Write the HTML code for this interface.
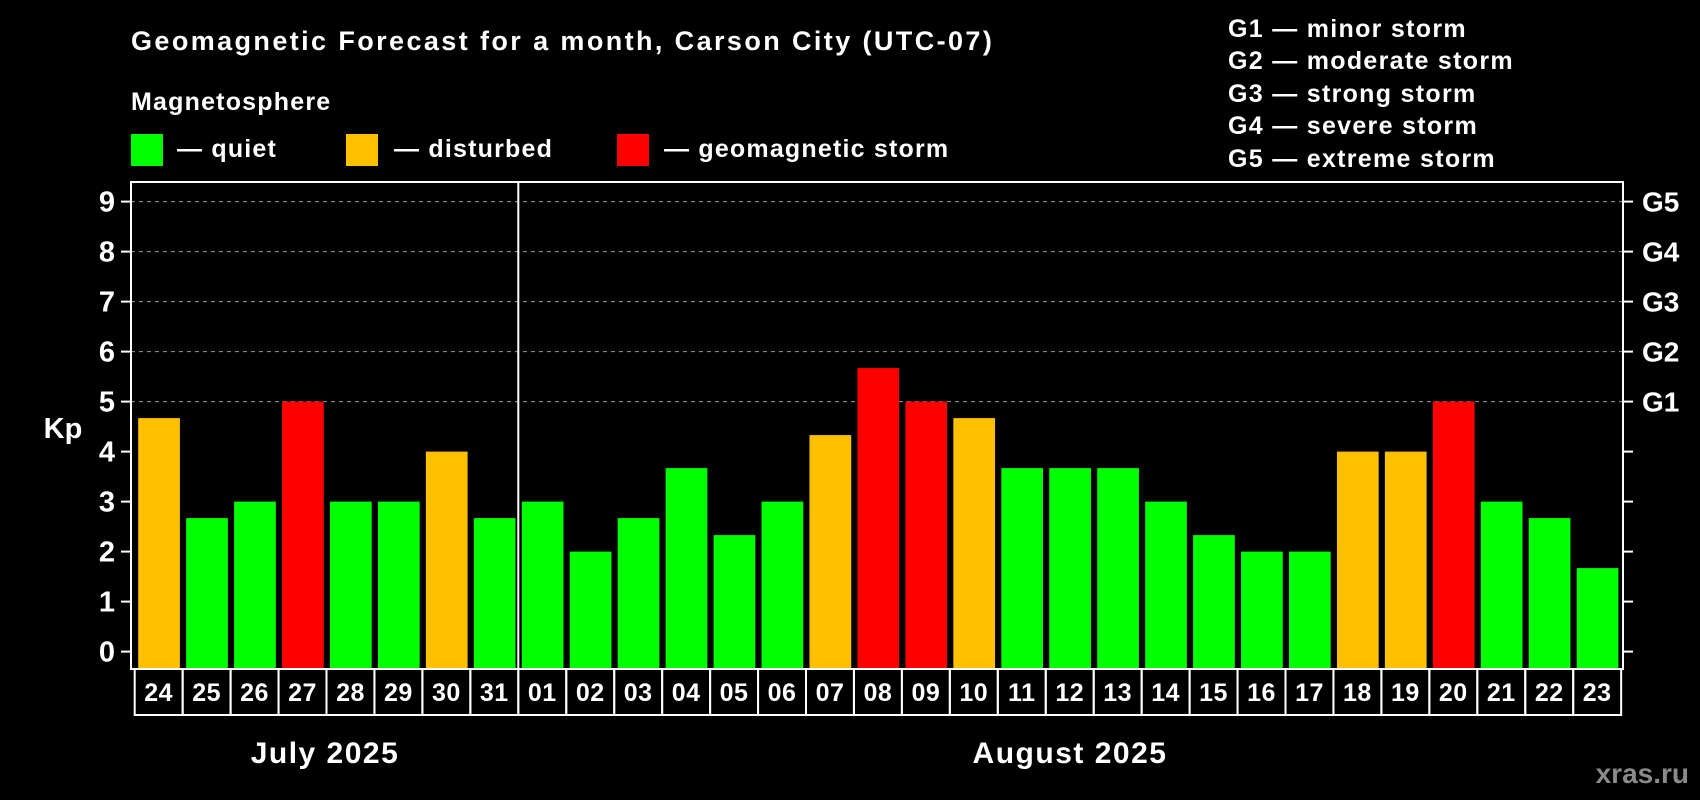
<!DOCTYPE html>
<html><head><meta charset="utf-8"><style>
html,body{margin:0;padding:0;background:#000;}
svg{display:block;font-family:"Liberation Sans",Arial,sans-serif;font-weight:bold;}
</style></head><body>
<svg id="chart" width="1700" height="800" viewBox="0 0 1700 800" xmlns="http://www.w3.org/2000/svg">
<rect width="1700" height="800" fill="#000"/>
<text x="131" y="50" fill="#fff" font-size="27" letter-spacing="2.4">Geomagnetic Forecast for a month, Carson City (UTC-07)</text>
<text x="131" y="110" fill="#fff" font-size="25" letter-spacing="1.2">Magnetosphere</text>
<g><rect x="131" y="134" width="32" height="32" fill="#00ff00"/><text x="177" y="157" fill="#fff" font-size="25" letter-spacing="1.2">— quiet</text></g>
<g><rect x="346" y="134" width="32" height="32" fill="#ffc000"/><text x="394" y="157" fill="#fff" font-size="25" letter-spacing="1.2">— disturbed</text></g>
<g><rect x="617" y="134" width="32" height="32" fill="#ff0000"/><text x="664" y="157" fill="#fff" font-size="25" letter-spacing="1.2">— geomagnetic storm</text></g>
<g fill="#fff" font-size="25" letter-spacing="1.3">
<text x="1228" y="37">G1 — minor storm</text>
<text x="1228" y="69">G2 — moderate storm</text>
<text x="1228" y="102">G3 — strong storm</text>
<text x="1228" y="134">G4 — severe storm</text>
<text x="1228" y="167">G5 — extreme storm</text>
</g>
<text x="63" y="438" fill="#fff" font-size="29" text-anchor="middle">Kp</text>
<g id="plot"></g>
<text x="325" y="763" fill="#fff" font-size="30" letter-spacing="1.5" text-anchor="middle">July 2025</text>
<text x="1070" y="763" fill="#fff" font-size="30" letter-spacing="1.5" text-anchor="middle">August 2025</text>
<text x="1689" y="783" fill="#8a8a8a" font-size="28" text-anchor="end">xras.ru</text>
</svg>
<script>
const days = ["24","25","26","27","28","29","30","31","01","02","03","04","05","06","07","08","09","10","11","12","13","14","15","16","17","18","19","20","21","22","23"];
const kp = [4.67,2.67,3,5,3,3,4,2.67,3,2,2.67,3.67,2.33,3,4.33,5.67,5,4.67,3.67,3.67,3.67,3,2.33,2,2,4,4,5,3,2.67,1.67];
const yTicks = [0,1,2,3,4,5,6,7,8,9];
const gLabels = ["G1","G2","G3","G4","G5"];
const gLevels = [5,6,7,8,9];

const NS="http://www.w3.org/2000/svg";
const g=document.getElementById('plot');
const L=131,R=1623,T=182,B=669,Y0=651.6,unit=50,boxL=134.7,boxW=47.95;
const y=v=>Y0-v*unit;
const x=i=>boxL+i*boxW;
function mk(tag,attrs){const e=document.createElementNS(NS,tag);for(const k in attrs)e.setAttribute(k,attrs[k]);g.appendChild(e);return e;}
gLevels.forEach(v=>{
 const l=mk('line',{x1:L,x2:R,y1:y(v),y2:y(v),stroke:'#999','stroke-width':1,'stroke-dasharray':'4,4'});
 
 
});
kp.forEach((v,i)=>{
 const c=v>=5?'#ff0000':(v>=4?'#ffc000':'#00ff00');
 const r=mk('rect',{x:x(i)+3.5,y:y(v),width:41.7,height:B-1-y(v),fill:c});
 
 
});
const f=mk('rect',{x:L,y:T,width:R-L,height:B-T,fill:'none',stroke:'#fff','stroke-width':2});


const sep=mk('line',{x1:x(8),x2:x(8),y1:T,y2:B,stroke:'#fff','stroke-width':2});


yTicks.forEach(v=>{
 const t1=mk('line',{x1:121,x2:L,y1:y(v),y2:y(v),stroke:'#fff','stroke-width':2});
 
 
 const t2=mk('line',{x1:R,x2:R+10,y1:y(v),y2:y(v),stroke:'#fff','stroke-width':2});
 
 
 const tx=mk('text',{x:115,y:y(v)+10,fill:'#fff','font-size':29,'text-anchor':'end'});
 tx.textContent=v;
 
 
});
gLabels.forEach((s,i)=>{
 const tx=mk('text',{x:1642,y:y(gLevels[i])+10,fill:'#fff','font-size':28});
 tx.textContent=s;
 
 
});
days.forEach((d,i)=>{
 const b=mk('rect',{x:x(i),y:B,width:boxW,height:46,fill:'none',stroke:'#fff','stroke-width':2});
 
 
 const tx=mk('text',{x:x(i)+boxW/2,y:B+32,fill:'#fff','font-size':25,'text-anchor':'middle','letter-spacing':0.5});
 tx.textContent=d;
 
 
});
</script>
</body></html>
